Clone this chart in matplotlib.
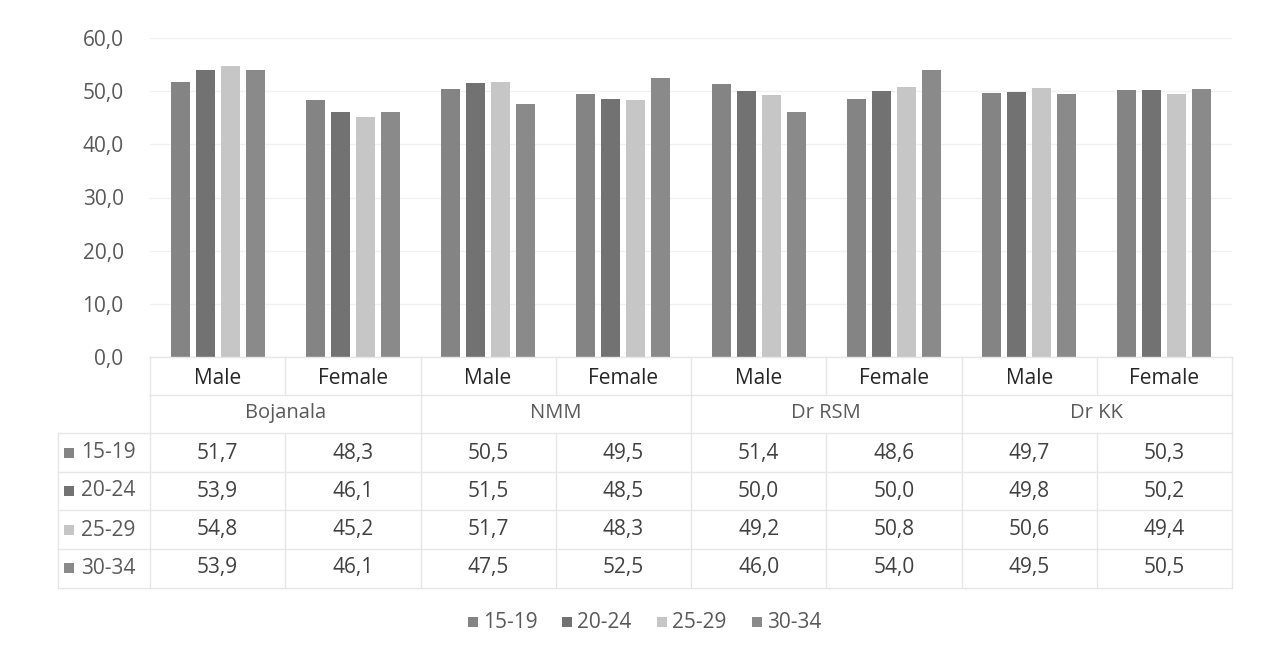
import numpy as np
import matplotlib.pyplot as plt
from matplotlib.lines import Line2D
from matplotlib.patches import Rectangle

plt.rcParams['font.family'] = ['Open Sans', 'DejaVu Sans']

districts = ["Bojanala", "NMM", "Dr RSM", "Dr KK"]
sexes = ["Male", "Female"]
ages = ["15-19", "20-24", "25-29", "30-34"]
v_15_19 = [51.7, 48.3, 50.5, 49.5, 51.4, 48.6, 49.7, 50.3]
v_20_24 = [53.9, 46.1, 51.5, 48.5, 50.0, 50.0, 49.8, 50.2]
v_25_29 = [54.8, 45.2, 51.7, 48.3, 49.2, 50.8, 50.6, 49.4]
v_30_34 = [53.9, 46.1, 47.5, 52.5, 46.0, 54.0, 49.5, 50.5]
series = [v_15_19, v_20_24, v_25_29, v_30_34]
colors = ["#848484", "#727272", "#c6c6c6", "#8a8a8a"]

W, H = 1261, 655
fig = plt.figure(figsize=(W / 100, H / 100), dpi=100)

def fx(x):
    return x / W

def fy(y):
    return 1 - y / H

# plot area in pixels
x0, x1 = 150, 1232
ytop, ybase = 38, 357
ax = fig.add_axes([fx(x0), fy(ybase), fx(x1 - x0), (ybase - ytop) / H])

ncol = len(districts) * len(sexes)
x = np.arange(ncol)
bw = 0.14
pitch = 0.185
for i, vals in enumerate(series):
    ax.bar(x + (i - 1.5) * pitch, vals, width=bw, color=colors[i], zorder=3)

ax.set_xlim(-0.5, ncol - 0.5)
ax.set_ylim(0, 60)
ax.set_yticks(np.arange(0, 61, 10))
ax.set_yticklabels([f"{t:.1f}".replace(".", ",") for t in np.arange(0, 61, 10)])
ax.tick_params(axis='y', length=0, pad=19, labelsize=15, labelcolor="#595959")
ax.set_xticks([])
ax.grid(axis='y', color="#f1f1f1", linewidth=1, zorder=0)
for s in ax.spines.values():
    s.set_visible(False)

# data table below the chart
colw = (x1 - x0) / ncol
line_c = "#e6e6e6"
txt_c = "#404040"
fs = 15
row_sex = 378
row_dist = 413
row_data = [453, 491, 530, 568]
hlines = [357, 395, 433, 472, 510, 549, 588]
tleft = 58

def hline(y, xa, xb):
    fig.add_artist(Line2D([fx(xa), fx(xb)], [fy(y), fy(y)], color=line_c, lw=1))

def vline(xv, ya, yb):
    fig.add_artist(Line2D([fx(xv), fx(xv)], [fy(ya), fy(yb)], color=line_c, lw=1))

for y in hlines[:2]:
    hline(y, x0, x1)
for y in hlines[2:]:
    hline(y, tleft, x1)
for k in range(ncol + 1):
    xv = x0 + k * colw
    vline(xv, hlines[0], hlines[1])
    vline(xv, hlines[2], hlines[-1])
    if k % 2 == 0:
        vline(xv, hlines[1], hlines[2])
vline(tleft, hlines[2], hlines[-1])

for k in range(ncol):
    cx = x0 + (k + 0.5) * colw
    fig.text(fx(cx), fy(row_sex), sexes[k % 2], ha='center', va='center',
             fontsize=fs, color="#262626")
for d, name in enumerate(districts):
    cx = x0 + (2 * d + 1) * colw
    fig.text(fx(cx), fy(row_dist), name, ha='center', va='center',
             fontsize=14.5, color="#595959")

for i, (age, vals) in enumerate(zip(ages, series)):
    y = row_data[i]
    fig.add_artist(Rectangle((fx(64), fy(y + 5)), fx(10), 10 / H,
                             color=colors[i], lw=0))
    fig.text(fx(81), fy(y), age, ha='left', va='center', fontsize=fs, color="#595959")
    for k, v in enumerate(vals):
        cx = x0 + (k + 0.5) * colw
        fig.text(fx(cx), fy(y), f"{v:.1f}".replace(".", ","), ha='center',
                 va='center', fontsize=fs, color=txt_c)

# legend
leg_x = [468, 562, 657, 752]
for i, age in enumerate(ages):
    fig.add_artist(Rectangle((fx(leg_x[i]), fy(627)), fx(10), 10 / H,
                             color=colors[i], lw=0))
    fig.text(fx(leg_x[i] + 15), fy(622), age, ha='left', va='center',
             fontsize=fs, color="#595959")

fig.savefig("out.png", dpi=100)
